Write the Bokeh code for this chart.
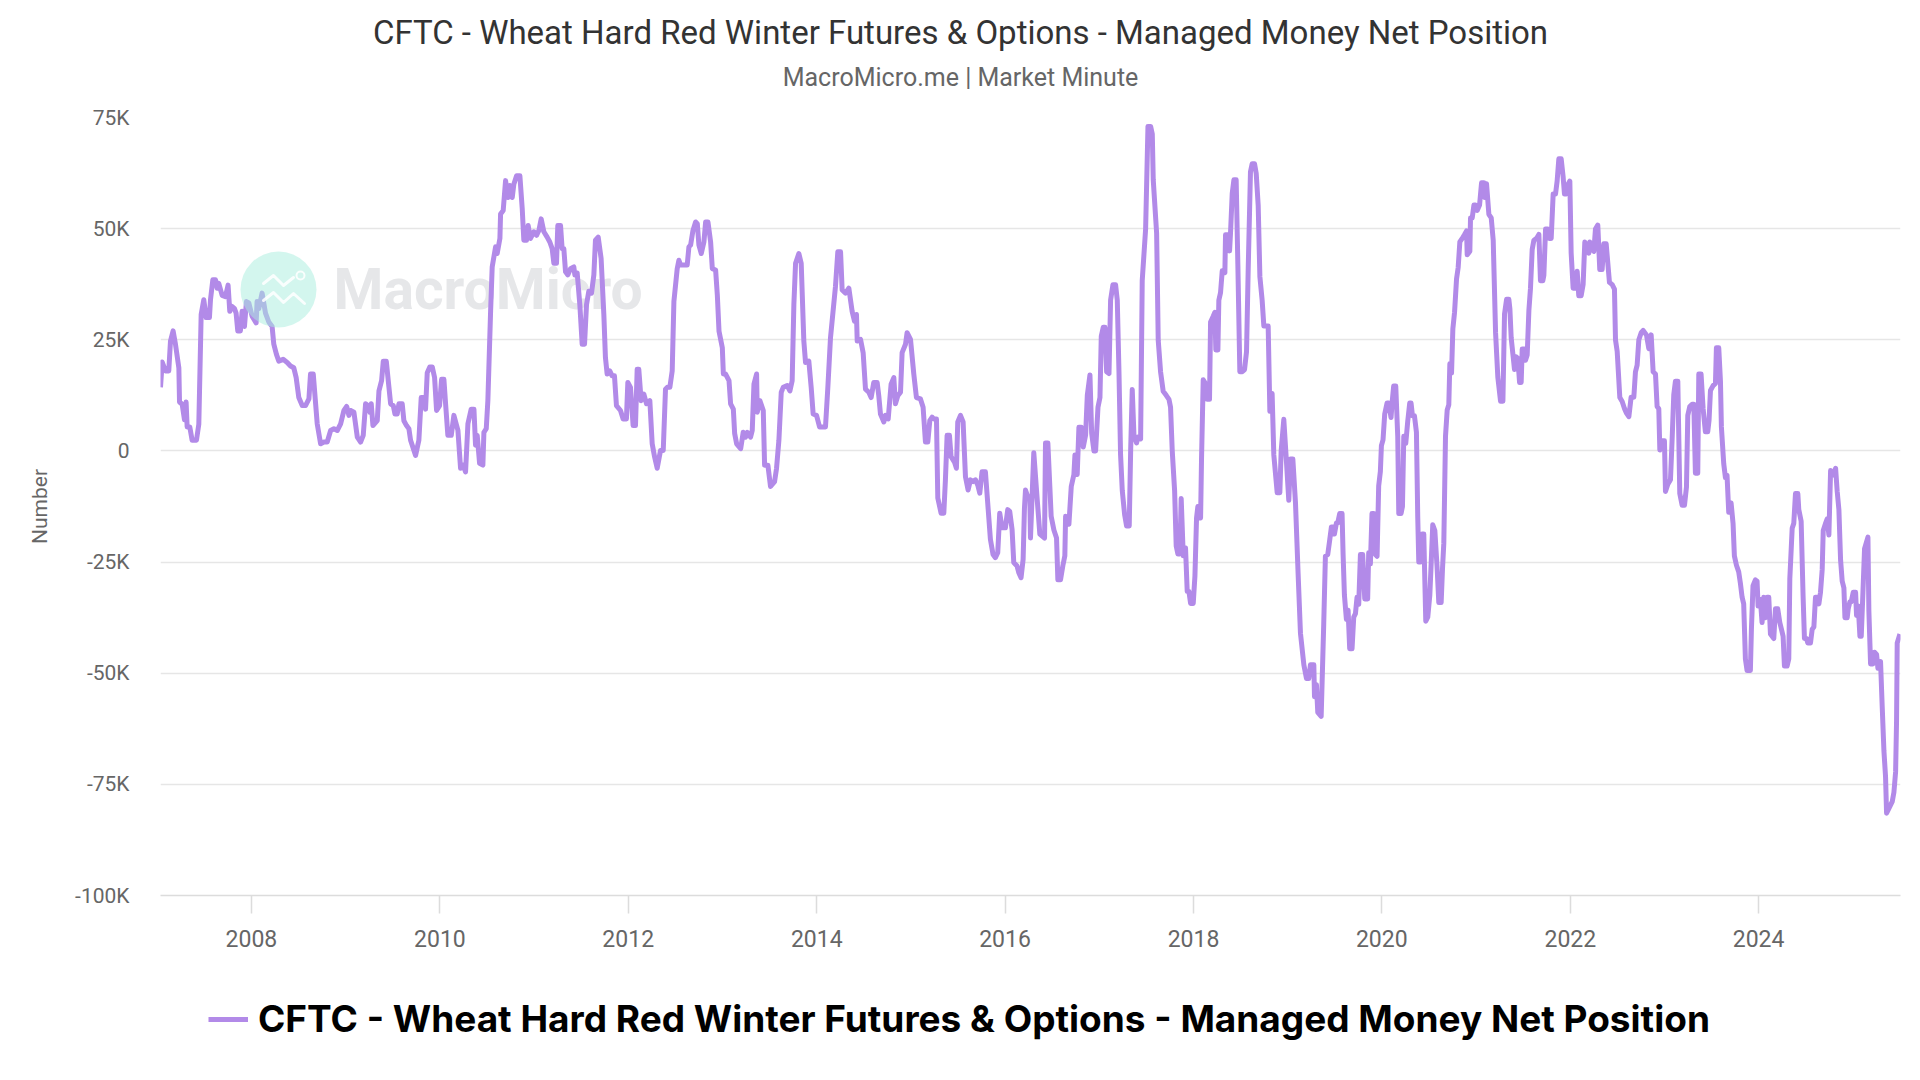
import math
from datetime import datetime
from bokeh.plotting import figure
from bokeh.layouts import column
from bokeh.models import (ColumnDataSource, Range1d, FixedTicker, DatetimeTickFormatter,
                          Legend, LegendItem, Label, BoxAnnotation, PolyAnnotation)
from bokeh.embed import file_html
from bokeh.resources import INLINE

# ---------------- data (decimal year, net position in thousands of contracts) ----------------
years_2007_2010 = [
    2007.034, 2007.052, 2007.087, 2007.122, 2007.140, 2007.168, 2007.193, 2007.229, 2007.236, 2007.264,
    2007.289, 2007.306, 2007.317, 2007.345, 2007.370, 2007.416, 2007.441, 2007.466, 2007.494, 2007.519,
    2007.554, 2007.565, 2007.590, 2007.618, 2007.636, 2007.653, 2007.689, 2007.724, 2007.752, 2007.770,
    2007.795, 2007.820, 2007.837, 2007.855, 2007.883, 2007.901, 2007.926, 2007.947, 2007.972, 2008.007,
    2008.050, 2008.060, 2008.078, 2008.113, 2008.149, 2008.184, 2008.219, 2008.237, 2008.265, 2008.290,
    2008.336, 2008.379, 2008.414, 2008.449, 2008.474, 2008.502, 2008.538, 2008.573, 2008.609, 2008.626,
    2008.655, 2008.680, 2008.697, 2008.733, 2008.768, 2008.803, 2008.839, 2008.874, 2008.910, 2008.945,
    2008.980, 2009.009, 2009.033, 2009.051, 2009.086, 2009.122, 2009.157, 2009.185, 2009.210, 2009.235,
    2009.256, 2009.270, 2009.288, 2009.334, 2009.352, 2009.380, 2009.398, 2009.430, 2009.458, 2009.476,
    2009.504, 2009.522, 2009.546, 2009.564, 2009.599, 2009.617, 2009.645, 2009.670, 2009.688, 2009.741,
    2009.776, 2009.801, 2009.830, 2009.847, 2009.865, 2009.893, 2009.918, 2009.943, 2009.964, 2009.996,
    2010.017, 2010.042, 2010.060, 2010.084, 2010.120,
]
net_2007_2010 = [
    14.3, 20.0, 18.0, 18.0, 24.7, 27.0, 24.0, 18.7, 11.0, 10.5,
    7.0, 11.0, 5.4, 5.4, 2.4, 2.4, 6.0, 30.7, 34.0, 30.0,
    30.0, 34.0, 38.5, 38.5, 36.6, 37.7, 35.0, 34.7, 37.3, 31.4,
    32.5, 32.0, 31.0, 27.0, 27.0, 31.4, 28.0, 33.6, 33.3, 30.3,
    28.8, 33.6, 32.0, 35.5, 31.0, 29.0, 28.0, 24.0, 21.7, 20.2,
    20.6, 19.9, 19.1, 18.7, 16.5, 12.0, 10.2, 10.2, 11.7, 17.3,
    17.3, 10.6, 6.1, 1.6, 2.0, 2.0, 4.6, 5.0, 4.6, 6.1,
    9.1, 10.0, 8.0, 9.1, 8.7, 3.1, 2.0, 3.5, 10.6, 10.2,
    8.7, 10.6, 5.7, 6.8, 13.5, 15.8, 20.2, 20.2, 14.3, 10.6,
    10.2, 8.3, 8.3, 10.6, 10.6, 6.8, 5.7, 5.0, 2.4, -1.0,
    2.4, 12.0, 12.0, 9.4, 17.6, 18.9, 18.9, 16.5, 9.1, 10.2,
    16.1, 16.1, 10.6, 3.5, 3.5,
]

years_2010_2013 = [
    2010.148, 2010.191, 2010.219, 2010.247, 2010.272, 2010.297, 2010.332, 2010.361, 2010.378, 2010.396,
    2010.421, 2010.456, 2010.467, 2010.492, 2010.509, 2010.538, 2010.555, 2010.591, 2010.608, 2010.637,
    2010.644, 2010.672, 2010.697, 2010.722, 2010.743, 2010.768, 2010.785, 2010.814, 2010.849, 2010.874,
    2010.891, 2010.920, 2010.937, 2010.962, 2010.998, 2011.026, 2011.051, 2011.075, 2011.104, 2011.139,
    2011.167, 2011.192, 2011.210, 2011.238, 2011.252, 2011.281, 2011.298, 2011.316, 2011.334, 2011.359,
    2011.387, 2011.422, 2011.433, 2011.458, 2011.486, 2011.511, 2011.536, 2011.557, 2011.581, 2011.610,
    2011.635, 2011.652, 2011.681, 2011.712, 2011.741, 2011.758, 2011.776, 2011.804, 2011.829, 2011.854,
    2011.875, 2011.918, 2011.946, 2011.981, 2011.996, 2012.024, 2012.052, 2012.077, 2012.095, 2012.112,
    2012.137, 2012.165, 2012.194, 2012.229, 2012.254, 2012.279, 2012.307, 2012.342, 2012.371, 2012.395,
    2012.413, 2012.441, 2012.466, 2012.484, 2012.519, 2012.537, 2012.555, 2012.590, 2012.625, 2012.643,
    2012.661, 2012.686, 2012.714, 2012.732, 2012.749, 2012.774, 2012.802, 2012.820, 2012.845, 2012.873,
    2012.891, 2012.926, 2012.944, 2012.962, 2012.997, 2013.008, 2013.032, 2013.068, 2013.085, 2013.114,
    2013.128, 2013.149, 2013.192,
]
net_2010_2013 = [
    8.0, 4.6, -3.9, -3.2, -4.7, 6.1, 9.4, 9.4, 1.3, 3.5,
    -2.8, -3.2, 4.2, 5.0, 11.3, 31.4, 41.4, 45.9, 44.4, 47.8,
    53.3, 54.1, 60.8, 57.0, 59.7, 57.0, 60.0, 61.9, 61.9, 54.5,
    47.4, 47.4, 50.7, 47.8, 49.3, 48.5, 49.6, 52.2, 49.3, 48.1,
    47.0, 45.5, 42.2, 42.2, 50.7, 50.7, 45.5, 45.5, 40.3, 39.6,
    41.0, 41.4, 39.6, 40.0, 32.9, 24.0, 24.0, 32.9, 35.9, 35.5,
    39.6, 47.4, 48.1, 43.3, 30.7, 21.0, 17.3, 18.0, 16.9, 16.9,
    10.2, 9.1, 7.2, 7.2, 15.4, 14.3, 5.7, 5.7, 18.4, 18.4,
    11.3, 12.8, 10.6, 11.3, 1.6, -1.3, -3.9, 0.1, 0.1, 13.9,
    14.3, 14.3, 18.0, 33.6, 41.0, 42.9, 41.8, 41.8, 41.8, 45.9,
    46.3, 49.6, 51.5, 51.1, 46.3, 44.4, 47.0, 51.5, 51.5, 47.0,
    41.0, 40.7, 35.1, 26.9, 23.2, 17.3, 17.3, 15.8, 10.6, 9.4,
    3.9, 1.6, 0.5,
]

years_2013_2016 = [
    2013.219, 2013.244, 2013.262, 2013.297, 2013.315, 2013.333, 2013.361, 2013.368, 2013.396, 2013.432,
    2013.446, 2013.481, 2013.509, 2013.552, 2013.573, 2013.598, 2013.623, 2013.644, 2013.686, 2013.715,
    2013.739, 2013.757, 2013.775, 2013.810, 2013.835, 2013.863, 2013.881, 2013.916, 2013.941, 2013.962,
    2013.998, 2014.030, 2014.058, 2014.093, 2014.118, 2014.146, 2014.199, 2014.224, 2014.253, 2014.270,
    2014.306, 2014.341, 2014.376, 2014.401, 2014.422, 2014.430, 2014.465, 2014.493, 2014.518, 2014.553,
    2014.578, 2014.606, 2014.642, 2014.659, 2014.677, 2014.713, 2014.730, 2014.759, 2014.790, 2014.819,
    2014.836, 2014.861, 2014.890, 2014.907, 2014.943, 2014.960, 2014.996, 2015.031, 2015.059, 2015.102,
    2015.130, 2015.155, 2015.180, 2015.201, 2015.226, 2015.243, 2015.272, 2015.286, 2015.321, 2015.350,
    2015.367, 2015.385, 2015.410, 2015.427, 2015.463, 2015.484, 2015.498, 2015.527, 2015.555, 2015.580,
    2015.608, 2015.633, 2015.661, 2015.686, 2015.711, 2015.732, 2015.756, 2015.792, 2015.810, 2015.845,
    2015.873, 2015.898, 2015.923, 2015.944, 2015.969, 2016.004, 2016.029, 2016.050, 2016.075, 2016.093,
    2016.128, 2016.146, 2016.170, 2016.192, 2016.206, 2016.217, 2016.241, 2016.263,
]
net_2013_2016 = [
    4.2, 3.1, 4.2, 3.1, 4.6, 15.0, 17.3, 8.7, 11.3, 9.1,
    -3.2, -3.2, -8.0, -6.9, -3.9, 2.4, 13.2, 14.3, 14.7, 13.5,
    15.8, 32.9, 42.2, 44.4, 42.2, 24.7, 19.9, 20.2, 14.3, 8.3,
    8.0, 5.4, 5.4, 5.4, 14.3, 25.4, 37.0, 44.8, 44.8, 36.2,
    35.5, 36.6, 31.4, 29.2, 30.7, 24.7, 25.1, 22.1, 13.9, 13.2,
    12.0, 15.4, 15.4, 12.4, 8.3, 6.5, 8.0, 7.2, 15.0, 16.5,
    10.6, 12.4, 13.2, 22.1, 24.0, 26.6, 25.1, 17.3, 12.0, 11.7,
    9.8, 2.0, 2.0, 6.8, 7.6, 7.2, 7.2, -10.6, -14.0, -14.0,
    -6.5, 3.5, 3.5, -1.3, -2.5, -3.9, 6.5, 8.0, 6.5, -5.8,
    -8.8, -6.5, -6.9, -6.5, -7.7, -9.5, -4.7, -4.7, -9.9, -19.9,
    -23.3, -24.0, -22.9, -14.0, -17.3, -17.3, -13.2, -13.6, -17.7, -25.1,
    -25.9, -27.4, -28.5, -24.4, -12.9, -8.8, -10.3, -10.3,
]

years_2016_2019 = [
    2016.270, 2016.305, 2016.334, 2016.369, 2016.419, 2016.429, 2016.454, 2016.475, 2016.489, 2016.518,
    2016.546, 2016.560, 2016.588, 2016.613, 2016.634, 2016.642, 2016.677, 2016.702, 2016.730, 2016.741,
    2016.765, 2016.783, 2016.808, 2016.829, 2016.854, 2016.872, 2016.900, 2016.918, 2016.942, 2016.960,
    2016.985, 2017.006, 2017.020, 2017.041, 2017.059, 2017.077, 2017.102, 2017.119, 2017.144, 2017.172,
    2017.190, 2017.208, 2017.225, 2017.243, 2017.268, 2017.289, 2017.317, 2017.332, 2017.349, 2017.367,
    2017.395, 2017.409, 2017.438, 2017.455, 2017.491, 2017.516, 2017.544, 2017.562, 2017.572, 2017.608,
    2017.625, 2017.650, 2017.678, 2017.710, 2017.739, 2017.756, 2017.774, 2017.799, 2017.816, 2017.834,
    2017.855, 2017.869, 2017.891, 2017.915, 2017.933, 2017.951, 2017.969, 2017.997, 2018.015, 2018.032,
    2018.046, 2018.075, 2018.085, 2018.103, 2018.128, 2018.145, 2018.170, 2018.181, 2018.209, 2018.227,
    2018.237, 2018.259, 2018.269, 2018.287, 2018.305, 2018.333, 2018.340, 2018.365, 2018.383, 2018.393,
    2018.411, 2018.429, 2018.453, 2018.471, 2018.492, 2018.517, 2018.542, 2018.563, 2018.581, 2018.605,
    2018.623, 2018.648, 2018.666, 2018.687, 2018.705, 2018.729, 2018.747, 2018.772, 2018.793, 2018.811,
    2018.835, 2018.853, 2018.889, 2018.917, 2018.931, 2018.959, 2018.988, 2019.012, 2019.030, 2019.055,
    2019.083, 2019.111, 2019.136, 2019.172, 2019.200, 2019.225, 2019.242, 2019.278, 2019.285, 2019.306,
    2019.320, 2019.356,
]
net_2016_2019 = [
    -19.6, -0.4, -8.9, -18.7, -19.6, 1.8, 1.8, -8.0, -14.7, -17.8,
    -19.6, -29.0, -29.0, -25.8, -23.6, -14.7, -16.5, -8.0, -5.3, -0.9,
    -5.3, 5.3, 5.3, 0.9, 3.6, 12.5, 17.1, 4.0, 0.0, 0.0,
    9.8, 12.0, 25.8, 27.8, 27.8, 17.8, 17.4, 33.9, 37.4, 37.4,
    33.9, 17.8, -0.9, -8.9, -14.3, -16.9, -16.9, 0.0, 13.8, 3.6,
    1.8, 3.1, 2.7, 38.3, 49.9, 73.0, 73.0, 71.3, 61.0, 49.0,
    24.9, 17.8, 13.4, 12.5, 11.6, 9.8, 0.0, -8.9, -21.4, -23.2,
    -23.2, -10.7, -23.6, -21.8, -31.6, -31.6, -34.3, -34.3, -28.1, -15.1,
    -12.5, -15.1, -1.8, 16.0, 15.1, 11.6, 11.6, 29.0, 30.3, 31.2,
    22.7, 22.7, 33.9, 35.6, 40.5, 40.1, 48.6, 48.6, 45.0, 49.0,
    57.9, 61.0, 61.0, 41.9, 17.8, 17.8, 18.3, 22.3, 41.0, 62.8,
    64.6, 64.6, 62.4, 55.2, 39.2, 33.9, 28.1, 28.1, 28.1, 8.9,
    12.9, -0.9, -9.4, -9.4, 0.0, 7.1, -2.7, -11.1, -1.8, -1.8,
    -11.6, -27.6, -41.0, -48.1, -51.2, -51.2, -48.1, -48.1, -55.3, -52.6,
    -58.8, -59.7,
]

years_2019_2022 = [
    2019.383, 2019.401, 2019.426, 2019.447, 2019.465, 2019.490, 2019.497, 2019.518, 2019.532, 2019.553,
    2019.578, 2019.589, 2019.603, 2019.624, 2019.642, 2019.659, 2019.684, 2019.702, 2019.720, 2019.737,
    2019.755, 2019.773, 2019.797, 2019.819, 2019.850, 2019.861, 2019.879, 2019.896, 2019.914, 2019.932,
    2019.950, 2019.967, 2019.985, 2019.996, 2020.013, 2020.031, 2020.056, 2020.073, 2020.098, 2020.109,
    2020.126, 2020.148, 2020.169, 2020.180, 2020.204, 2020.219, 2020.233, 2020.254, 2020.275, 2020.296,
    2020.310, 2020.325, 2020.346, 2020.367, 2020.381, 2020.392, 2020.410, 2020.427, 2020.445, 2020.456,
    2020.466, 2020.487, 2020.509, 2020.523, 2020.540, 2020.562, 2020.586, 2020.604, 2020.629, 2020.643,
    2020.657, 2020.675, 2020.693, 2020.710, 2020.721, 2020.739, 2020.753, 2020.771, 2020.792, 2020.809,
    2020.827, 2020.852, 2020.877, 2020.898, 2020.905, 2020.933, 2020.940, 2020.958, 2020.976, 2020.993,
    2021.011, 2021.036, 2021.057, 2021.082, 2021.092, 2021.110, 2021.135, 2021.160, 2021.181, 2021.206,
    2021.230, 2021.259, 2021.284, 2021.301, 2021.323, 2021.347, 2021.358, 2021.372, 2021.393, 2021.407,
    2021.422, 2021.443, 2021.461, 2021.478, 2021.489, 2021.514, 2021.524, 2021.542, 2021.560, 2021.577,
    2021.595, 2021.613, 2021.641, 2021.666, 2021.683, 2021.708, 2021.719, 2021.737, 2021.761, 2021.775,
    2021.797, 2021.818, 2021.843, 2021.860, 2021.878, 2021.903, 2021.924, 2021.938, 2021.959, 2021.974,
    2021.995, 2022.009, 2022.030, 2022.055, 2022.073, 2022.090, 2022.115, 2022.136, 2022.154, 2022.179,
    2022.197, 2022.207, 2022.232, 2022.250, 2022.267, 2022.292, 2022.313, 2022.338, 2022.356, 2022.381,
    2022.391, 2022.416,
]
net_2019_2022 = [
    -39.1, -23.7, -23.3, -20.0, -17.1, -17.1, -18.7, -16.2, -16.2, -14.1,
    -14.1, -23.3, -32.4, -37.9, -35.8, -44.5, -44.5, -37.4, -36.6, -32.9,
    -34.5, -23.3, -23.3, -33.3, -33.3, -22.9, -25.4, -14.1, -14.1, -23.3,
    -23.7, -7.9, -4.6, 1.2, 2.5, 8.3, 10.8, 10.8, 7.5, 10.8,
    14.6, 14.6, 3.3, -14.1, -14.1, -12.5, 3.3, 1.7, 6.7, 10.8,
    10.8, 7.9, 7.9, 4.2, -15.0, -25.0, -25.0, -18.7, -18.7, -29.1,
    -38.3, -37.4, -32.4, -25.4, -16.6, -17.9, -26.2, -34.1, -34.1, -26.6,
    -20.8, 3.3, 9.2, 10.4, 19.6, 17.5, 27.5, 31.2, 38.7, 41.2,
    47.0, 47.8, 48.7, 49.5, 44.1, 44.9, 52.4, 52.4, 55.3, 55.3,
    54.1, 55.3, 60.3, 60.3, 57.0, 60.1, 53.2, 52.4, 47.4, 26.6,
    16.6, 11.2, 11.2, 30.8, 34.1, 34.1, 32.0, 25.4, 21.2, 18.3,
    21.2, 20.8, 15.4, 15.4, 22.9, 22.9, 20.4, 21.6, 31.6, 36.6,
    45.3, 47.4, 47.8, 48.7, 38.3, 38.3, 39.5, 49.9, 49.9, 47.8,
    47.8, 57.8, 57.8, 60.7, 65.7, 65.7, 61.6, 57.8, 57.8, 59.9,
    60.7, 44.5, 36.6, 36.6, 40.4, 34.9, 34.9, 37.4, 47.0, 45.8,
    44.5, 47.0, 45.3, 44.9, 49.9, 50.8, 40.8, 40.8, 46.6, 46.6,
    44.1, 37.9,
]

years_2022_2025 = [
    2022.445, 2022.469, 2022.480, 2022.498, 2022.526, 2022.551, 2022.576, 2022.597, 2022.622, 2022.646,
    2022.675, 2022.692, 2022.710, 2022.728, 2022.753, 2022.774, 2022.809, 2022.834, 2022.859, 2022.880,
    2022.905, 2022.922, 2022.940, 2022.951, 2022.975, 2023.000, 2023.011, 2023.036, 2023.064, 2023.082,
    2023.099, 2023.117, 2023.142, 2023.163, 2023.188, 2023.213, 2023.234, 2023.248, 2023.269, 2023.294,
    2023.312, 2023.329, 2023.354, 2023.365, 2023.389, 2023.411, 2023.435, 2023.460, 2023.474, 2023.489,
    2023.517, 2023.542, 2023.552, 2023.577, 2023.595, 2023.605, 2023.630, 2023.648, 2023.665, 2023.683,
    2023.708, 2023.729, 2023.743, 2023.765, 2023.789, 2023.807, 2023.825, 2023.842, 2023.860, 2023.878,
    2023.913, 2023.924, 2023.941, 2023.966, 2023.984, 2023.995, 2024.019, 2024.037, 2024.055, 2024.072,
    2024.090, 2024.108, 2024.126, 2024.161, 2024.179, 2024.203, 2024.225, 2024.249, 2024.260, 2024.274,
    2024.302, 2024.320, 2024.331, 2024.356, 2024.373, 2024.391, 2024.416, 2024.426, 2024.451, 2024.472,
    2024.486, 2024.508, 2024.522, 2024.550, 2024.568, 2024.586, 2024.603, 2024.621, 2024.639, 2024.656,
    2024.674, 2024.685, 2024.709, 2024.727, 2024.745, 2024.763, 2024.780, 2024.798, 2024.816, 2024.833,
    2024.851, 2024.869, 2024.886, 2024.904, 2024.915, 2024.939, 2024.950, 2024.968, 2024.982, 2025.003,
    2025.028, 2025.038, 2025.056, 2025.074, 2025.088, 2025.106, 2025.123, 2025.159, 2025.169, 2025.187,
    2025.212, 2025.229, 2025.251, 2025.265, 2025.293, 2025.311, 2025.329, 2025.346, 2025.357, 2025.382,
    2025.417, 2025.435, 2025.453, 2025.463, 2025.470, 2025.499,
]
net_2022_2025 = [
    37.4, 36.4, 25.0, 22.4, 12.0, 11.1, 9.5, 8.5, 7.7, 12.1,
    12.1, 17.8, 19.3, 25.0, 26.6, 27.1, 26.1, 23.0, 26.1, 17.8,
    17.3, 10.0, 9.5, 0.2, 2.3, 2.3, -9.1, -7.5, -6.5, 2.8,
    12.6, 15.7, 15.7, -9.6, -12.2, -12.2, -8.1, 8.0, 10.0, 10.5,
    10.5, -5.0, -5.0, 17.3, 17.3, 9.5, 4.3, 4.3, 6.9, 13.6,
    14.7, 15.2, 23.2, 23.2, 15.7, 5.4, -2.9, -6.0, -5.5, -13.8,
    -11.7, -16.3, -23.6, -25.7, -27.2, -29.8, -32.9, -34.4, -46.8, -49.4,
    -49.4, -40.1, -30.3, -29.0, -29.3, -34.9, -33.4, -38.6, -32.9, -37.5,
    -32.9, -32.9, -41.2, -42.2, -35.5, -35.5, -38.6, -40.7, -41.7, -48.4,
    -48.4, -46.8, -28.7, -17.4, -16.3, -9.6, -9.6, -13.2, -15.8, -32.9,
    -42.2, -42.2, -43.2, -43.2, -40.1, -39.6, -32.9, -32.9, -34.4, -31.8,
    -26.7, -17.9, -16.3, -15.3, -18.9, -4.4, -5.5, -5.0, -3.9, -9.1,
    -13.2, -24.6, -29.3, -30.8, -37.5, -37.5, -35.5, -33.9, -33.9, -31.8,
    -31.8, -37.0, -34.9, -41.7, -41.7, -31.8, -22.0, -19.4, -36.0, -47.9,
    -47.9, -45.3, -45.8, -48.9, -47.4, -57.7, -67.5, -73.2, -81.5, -80.4,
    -78.9, -76.8, -72.2, -60.8, -43.2, -41.2,
]

series_name = "CFTC - Wheat Hard Red Winter Futures & Options - Managed Money Net Position"
chart_title = "CFTC - Wheat Hard Red Winter Futures & Options - Managed Money Net Position"
chart_subtitle = "MacroMicro.me | Market Minute"
watermark_text = "MacroMicro"
y_axis_title = "Number"
x_tick_years = [2008, 2010, 2012, 2014, 2016, 2018, 2020, 2022, 2024]
y_tick_values = [-100000, -75000, -50000, -25000, 0, 25000, 50000, 75000]
y_tick_labels = ["-100K", "-75K", "-50K", "-25K", "0", "25K", "50K", "75K"]
x_start_year, x_end_year = 2007.034, 2025.505

# ---------------- assemble ----------------
segments = [
    (years_2007_2010, net_2007_2010), (years_2010_2013, net_2010_2013),
    (years_2013_2016, net_2013_2016), (years_2016_2019, net_2016_2019),
    (years_2019_2022, net_2019_2022), (years_2022_2025, net_2022_2025),
]
for ys, vs in segments:
    assert len(ys) == len(vs), (len(ys), len(vs), ys[0])


def year_to_datetime(y):
    yi = int(math.floor(y))
    start = datetime(yi, 1, 1)
    end = datetime(yi + 1, 1, 1)
    return start + (end - start) * (y - yi)


dates, values = [], []
for ys, vs in segments:
    dates += [year_to_datetime(y) for y in ys]
    values += [v * 1000 for v in vs]

src = ColumnDataSource(dict(date=dates, value=values))

FONT = "Roboto"
LEGEND_FONT = "Inter"
LINE_COLOR = "#b28ae8"
LINE_WIDTH = 5
W = 1910
FRAME_LEFT = 160   # columns align their frames, so strip labels are frame-relative


def bare(fig):
    fig.outline_line_color = None
    fig.background_fill_color = "white"
    fig.border_fill_color = "white"
    fig.grid.visible = False
    fig.min_border = 0
    return fig


# ---------------- header (title + subtitle) ----------------
header = bare(figure(width=W, height=103, output_backend="svg", toolbar_location=None,
                     x_axis_location=None, y_axis_location=None,
                     x_range=Range1d(0, 1), y_range=Range1d(0, 1)))
header.add_layout(Label(x=960 - FRAME_LEFT, y=71, x_units="screen", y_units="screen",
                        text=chart_title, text_font=FONT, text_font_size="33px",
                        text_color="#333333", text_align="center", text_baseline="middle"))
header.add_layout(Label(x=960 - FRAME_LEFT, y=26, x_units="screen", y_units="screen",
                        text=chart_subtitle, text_font=FONT, text_font_size="25px",
                        text_color="#666666", text_align="center", text_baseline="middle"))

# ---------------- main chart ----------------
p = figure(width=W, height=862, x_axis_type="datetime",
           output_backend="svg", toolbar_location=None,
           x_range=Range1d(year_to_datetime(x_start_year), year_to_datetime(x_end_year)),
           y_range=Range1d(y_tick_values[0], y_tick_values[-1]))
p.min_border_left = FRAME_LEFT
p.min_border_right = 10
p.min_border_top = 14
p.min_border_bottom = 70
p.outline_line_color = None
p.background_fill_color = "white"
p.border_fill_color = "white"

p.xgrid.visible = False
p.ygrid.grid_line_color = "#e6e6e6"
p.ygrid.grid_line_width = 1.5

yax = p.yaxis[0]
yax.ticker = FixedTicker(ticks=y_tick_values)
yax.major_label_overrides = {v: l for v, l in zip(y_tick_values, y_tick_labels)}
yax.axis_line_color = None
yax.major_tick_line_color = None
yax.major_tick_out = 0
yax.major_tick_in = 0
yax.minor_tick_line_color = None
yax.major_label_text_font = FONT
yax.major_label_text_font_size = "21px"
yax.major_label_text_color = "#666666"
yax.major_label_standoff = 31
yax.axis_label = y_axis_title
yax.axis_label_text_font = FONT
yax.axis_label_text_font_size = "21px"
yax.axis_label_text_font_style = "normal"
yax.axis_label_text_color = "#666666"
yax.axis_label_standoff = 20

epoch = datetime(1970, 1, 1)
xax = p.xaxis[0]
xax.ticker = FixedTicker(ticks=[(datetime(y, 1, 1) - epoch).total_seconds() * 1000 for y in x_tick_years])
fmt = "%Y"
xax.formatter = DatetimeTickFormatter(years=fmt, months=fmt, days=fmt, hours=fmt, hourmin=fmt,
                                      minutes=fmt, minsec=fmt, seconds=fmt, milliseconds=fmt,
                                      microseconds=fmt)
xax.axis_line_color = "#dcdcdc"
xax.axis_line_width = 1.5
xax.major_tick_line_color = "#dcdcdc"
xax.major_tick_line_width = 1.5
xax.major_tick_in = 0
xax.major_tick_out = 18
xax.minor_tick_line_color = None
xax.major_label_text_font = FONT
xax.major_label_text_font_size = "23px"
xax.major_label_text_color = "#666666"
xax.major_label_standoff = 16

# watermark text (behind the series)
p.add_layout(Label(x=173, y=606, x_units="screen", y_units="screen", text=watermark_text,
                   text_font=FONT, text_font_size="57px", text_font_style="bold",
                   text_color="#e6e7e9", text_baseline="middle", text_align="left",
                   level="underlay"))

r = p.line(x="date", y="value", source=src, line_color=LINE_COLOR, line_width=LINE_WIDTH,
           line_join="round")

# watermark logo: translucent mint disc with a small white chart icon
p.add_layout(BoxAnnotation(left=80, right=156, bottom=568, top=644,
                           left_units="screen", right_units="screen",
                           bottom_units="screen", top_units="screen",
                           fill_color="#a7eddd", fill_alpha=0.5, line_color=None,
                           border_radius=38))
icon_upper_x = [103, 113, 123, 133]
icon_upper_y = [612, 620, 610, 618]
icon_lower_x = [103, 113, 123, 133, 144]
icon_lower_y = [595, 603, 593, 602, 592]
for ix, iy in ((icon_upper_x, icon_upper_y), (icon_lower_x, icon_lower_y)):
    p.add_layout(PolyAnnotation(xs=ix + ix[::-1], ys=iy + iy[::-1],
                                xs_units="screen", ys_units="screen",
                                fill_alpha=0, line_color="white", line_alpha=0.85,
                                line_width=3, line_join="round"))
p.add_layout(BoxAnnotation(left=136, right=144, bottom=616, top=624,
                           left_units="screen", right_units="screen",
                           bottom_units="screen", top_units="screen",
                           fill_alpha=0, line_color="white", line_alpha=0.85, line_width=2,
                           border_radius=4))

# ---------------- legend strip ----------------
lf = bare(figure(width=W, height=111, output_backend="svg", toolbar_location=None,
                 x_axis_location=None, y_axis_location=None,
                 x_range=Range1d(0, 1), y_range=Range1d(0, 1)))
legend_glyph = lf.line(x=[float("nan")], y=[float("nan")], line_color=LINE_COLOR,
                       line_width=LINE_WIDTH)
legend = Legend(items=[LegendItem(label=series_name, renderers=[legend_glyph])],
                orientation="horizontal", location=(208 - FRAME_LEFT, 35),
                label_text_font=LEGEND_FONT, label_text_font_size="37px",
                label_text_font_style="bold", label_text_color="#000000",
                glyph_width=40, glyph_height=24, label_standoff=10,
                padding=0, margin=0, border_line_color=None, background_fill_alpha=0)
lf.add_layout(legend)

layout = column(header, p, lf, spacing=0)
open("out.html", "w").write(file_html(layout, INLINE))
